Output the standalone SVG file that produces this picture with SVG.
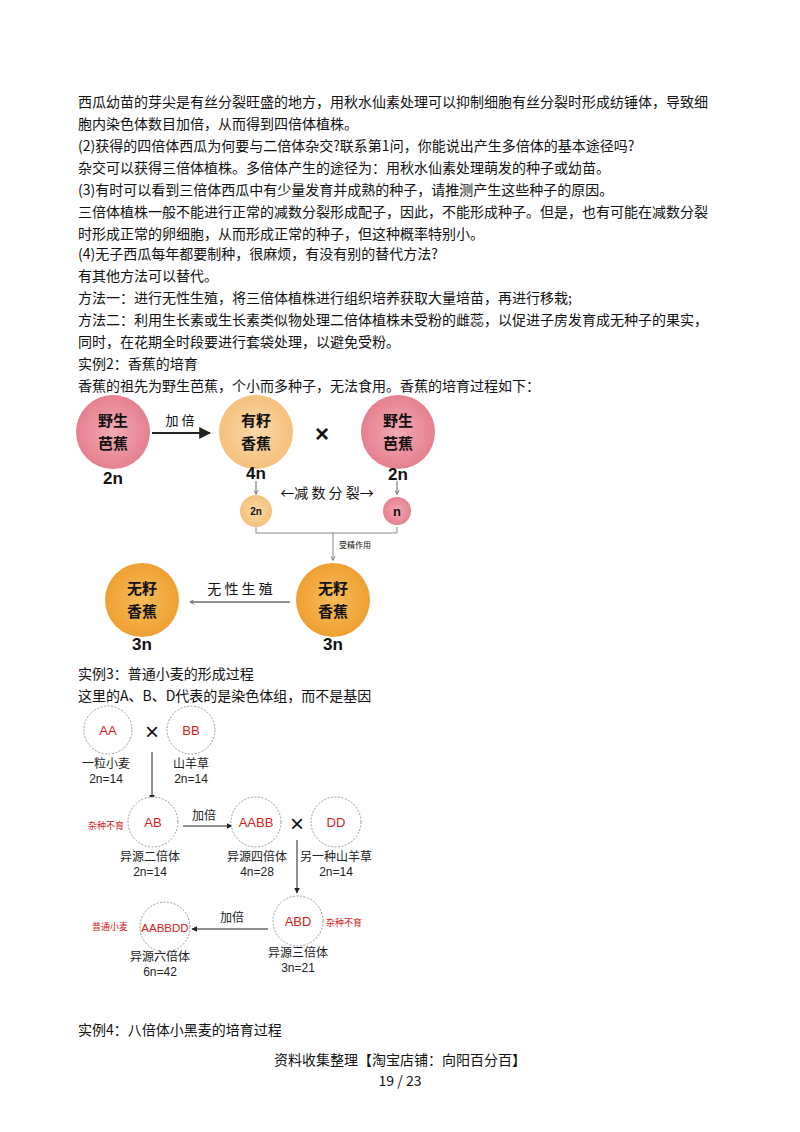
<svg xmlns="http://www.w3.org/2000/svg" width="800" height="1132" viewBox="0 0 800 1132">
<style>
.t{font-family:"Noto Sans CJK SC","Liberation Sans",sans-serif;font-size:14px;fill:#111}
.c{text-anchor:middle}
.cb{font-family:"Noto Sans CJK SC",sans-serif;font-size:15px;font-weight:bold;fill:#111;text-anchor:middle}
.n{font-family:"Liberation Sans",sans-serif;font-size:17px;font-weight:bold;fill:#111;text-anchor:middle}
.ser{font-family:"Noto Sans CJK SC",serif;font-size:13px;fill:#111;text-anchor:middle}
.w{fill:#fff;stroke:#999;stroke-dasharray:2 1.5}
.r{font-family:"Liberation Sans","Noto Sans CJK SC",sans-serif;font-size:13px;fill:#d32020;text-anchor:middle}
.rs{font-family:"Noto Sans CJK SC",sans-serif;font-size:9px;fill:#d32020}
.l{font-family:"Liberation Sans","Noto Sans CJK SC",sans-serif;font-size:12px;fill:#222;text-anchor:middle}
.ln{stroke:#222;fill:none}
</style>
<defs>
<marker id="a" viewBox="0 0 10 10" refX="9" refY="5" markerWidth="6" markerHeight="6" orient="auto"><path d="M0,0L10,5L0,10z" fill="#222"/></marker>
<marker id="g" viewBox="0 0 10 10" refX="9" refY="5" markerWidth="5" markerHeight="5" orient="auto"><path d="M0,0L10,5L0,10" fill="none" stroke="#666" stroke-width="1.5"/></marker>
<radialGradient id="pk"><stop offset="0" stop-color="#f3a9b3"/><stop offset="1" stop-color="#e5808f"/></radialGradient>
<radialGradient id="lo"><stop offset="0" stop-color="#fbd9a8"/><stop offset="1" stop-color="#f5c07c"/></radialGradient>
<radialGradient id="do"><stop offset="0" stop-color="#f8bc5a"/><stop offset="1" stop-color="#eea032"/></radialGradient>
</defs>
<rect width="800" height="1132" fill="#fff"/>
<g class="t">
<text x="78" y="107">西瓜幼苗的芽尖是有丝分裂旺盛的地方，用秋水仙素处理可以抑制细胞有丝分裂时形成纺锤体，导致细</text>
<text x="78" y="129">胞内染色体数目加倍，从而得到四倍体植株。</text>
<text x="78" y="151">(2)获得的四倍体西瓜为何要与二倍体杂交?联系第1问，你能说出产生多倍体的基本途径吗?</text>
<text x="78" y="173">杂交可以获得三倍体植株。多倍体产生的途径为：用秋水仙素处理萌发的种子或幼苗。</text>
<text x="78" y="195">(3)有时可以看到三倍体西瓜中有少量发育并成熟的种子，请推测产生这些种子的原因。</text>
<text x="78" y="217">三倍体植株一般不能进行正常的减数分裂形成配子，因此，不能形成种子。但是，也有可能在减数分裂</text>
<text x="78" y="239">时形成正常的卵细胞，从而形成正常的种子，但这种概率特别小。</text>
<text x="78" y="259">(4)无子西瓜每年都要制种，很麻烦，有没有别的替代方法?</text>
<text x="78" y="281">有其他方法可以替代。</text>
<text x="78" y="303">方法一：进行无性生殖，将三倍体植株进行组织培养获取大量培苗，再进行移栽;</text>
<text x="78" y="325">方法二：利用生长素或生长素类似物处理二倍体植株未受粉的雌蕊，以促进子房发育成无种子的果实，</text>
<text x="78" y="347">同时，在花期全时段要进行套袋处理，以避免受粉。</text>
<text x="78" y="369">实例2：香蕉的培育</text>
<text x="78" y="391">香蕉的祖先为野生芭蕉，个小而多种子，无法食用。香蕉的培育过程如下：</text>
<text x="78" y="679">实例3：普通小麦的形成过程</text>
<text x="78" y="701">这里的A、B、D代表的是染色体组，而不是基因</text>
<text x="78" y="1035">实例4：八倍体小黑麦的培育过程</text>
<text x="400" y="1065" class="c">资料收集整理【淘宝店铺：向阳百分百】</text>
<text x="400" y="1086" class="c">19 / 23</text>
</g>
<g id="connectors">
<line class="ln" x1="152" y1="433" x2="210" y2="433" stroke-width="2" marker-end="url(#a)"/>
<line x1="256" y1="481" x2="256" y2="494" stroke="#666" marker-end="url(#g)"/>
<line x1="397" y1="481" x2="397" y2="494" stroke="#666" marker-end="url(#g)"/>
<path d="M256,527V533H397V527M333,533V560" fill="none" stroke="#888" marker-end="url(#g)"/>
<line class="ln" x1="290" y1="602" x2="190" y2="602" stroke="#444" marker-end="url(#g)"/>
<line class="ln" x1="152" y1="752" x2="152" y2="800" marker-end="url(#a)"/>
<line class="ln" x1="183" y1="826" x2="232" y2="826" marker-end="url(#a)"/>
<line class="ln" x1="297" y1="840" x2="297" y2="893" marker-end="url(#a)"/>
<line class="ln" x1="268" y1="929" x2="192" y2="929" marker-end="url(#a)"/>
</g>
<g class="ser"><text x="180" y="425">加 倍</text><text x="327" y="498" style="font-size:14px">←减 数 分 裂→</text><text x="355" y="548" style="font-size:8px">受精作用</text><text x="240" y="594" style="font-size:14px">无 性 生 殖</text></g>
<g id="wild1"><circle cx="113" cy="432" r="37" fill="url(#pk)"/><text class="cb" x="113" y="426">野生</text><text class="cb" x="113" y="449">芭蕉</text><text class="n" x="113" y="484">2n</text></g>
<g id="seeded"><circle cx="256" cy="432" r="37" fill="url(#lo)"/><text class="cb" x="256" y="426">有籽</text><text class="cb" x="256" y="449">香蕉</text><text class="n" x="256" y="479">4n</text></g>
<text class="n" x="322" y="442" style="font-size:24px">×</text>
<g id="wild2"><circle cx="398" cy="432" r="37" fill="url(#pk)"/><text class="cb" x="398" y="426">野生</text><text class="cb" x="398" y="449">芭蕉</text><text class="n" x="398" y="480">2n</text></g>
<g id="g2n"><circle cx="256" cy="511" r="16" fill="url(#lo)"/><text class="n" x="256" y="515" style="font-size:10px">2n</text></g>
<g id="gn"><circle cx="397" cy="511" r="14" fill="url(#pk)"/><text class="n" x="397" y="516" style="font-size:13px">n</text></g>
<g id="seedless1"><circle cx="333" cy="600" r="37" fill="url(#do)"/><text class="cb" x="333" y="594">无籽</text><text class="cb" x="333" y="617">香蕉</text><text class="n" x="333" y="650">3n</text></g>
<g id="seedless2"><circle cx="142" cy="600" r="37" fill="url(#do)"/><text class="cb" x="142" y="594">无籽</text><text class="cb" x="142" y="617">香蕉</text><text class="n" x="142" y="650">3n</text></g>

<g id="AA"><circle class="w" cx="108" cy="730" r="24"/><text class="r" x="108" y="735">AA</text><text class="l" x="106" y="768">一粒小麦</text><text class="l" x="106" y="783">2n=14</text></g>
<text x="152" y="740" font-family="Liberation Sans" font-size="24" text-anchor="middle" fill="#111">×</text>
<g id="BB"><circle class="w" cx="191" cy="730" r="24"/><text class="r" x="191" y="735">BB</text><text class="l" x="191" y="768">山羊草</text><text class="l" x="191" y="783">2n=14</text></g>
<g id="AB"><circle class="w" cx="153" cy="822" r="25"/><text class="r" x="153" y="827">AB</text><text class="rs" x="88" y="829">杂种不育</text><text class="l" x="150" y="861">异源二倍体</text><text class="l" x="150" y="876">2n=14</text></g>
<text class="l" x="204" y="820">加倍</text>
<g id="AABB"><circle class="w" cx="256" cy="822" r="25"/><text class="r" x="256" y="827">AABB</text><text class="l" x="257" y="861">异源四倍体</text><text class="l" x="257" y="876">4n=28</text></g>
<text x="297" y="832" font-family="Liberation Sans" font-size="24" text-anchor="middle" fill="#111">×</text>
<g id="DD"><circle class="w" cx="336" cy="822" r="25"/><text class="r" x="336" y="827">DD</text><text class="l" x="336" y="861">另一种山羊草</text><text class="l" x="336" y="876">2n=14</text></g>
<g id="ABD"><circle class="w" cx="298" cy="921" r="25"/><text class="r" x="298" y="926">ABD</text><text class="rs" x="326" y="926">杂种不育</text><text class="l" x="298" y="957">异源三倍体</text><text class="l" x="298" y="972">3n=21</text></g>
<text class="l" x="232" y="922">加倍</text>
<g id="AABBDD"><circle class="w" cx="165" cy="927" r="25"/><text class="r" x="165" y="932" style="font-size:11.5px">AABBDD</text><text class="rs" x="92" y="930">普通小麦</text><text class="l" x="160" y="961">异源六倍体</text><text class="l" x="160" y="976">6n=42</text></g>
</svg>
